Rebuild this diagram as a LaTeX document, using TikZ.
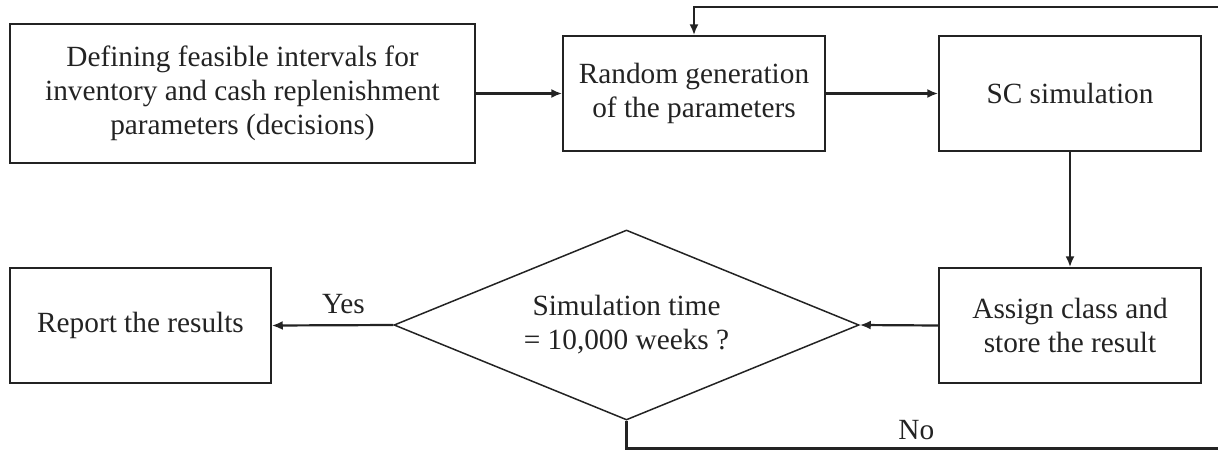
\documentclass[tikz,border=0pt]{standalone}
\usepackage{fontspec}
\setmainfont{Liberation Serif}
\usetikzlibrary{arrows.meta,shapes.geometric}
\definecolor{ink}{RGB}{35,35,35}
\begin{document}
\begin{tikzpicture}[x=1pt,y=-1pt,
  every node/.style={font=\fontsize{29.3}{34}\selectfont, text=ink},
  box/.style={draw=ink, line width=1.5pt, align=center, inner sep=0pt},
  conn/.style={draw=ink, line width=2.2pt, -{Latex[length=11pt,width=9pt]}},
  plainline/.style={draw=ink, line width=2.2pt}]
\useasboundingbox (0,0) rectangle (1218,450);
\node[box, minimum width=465pt, minimum height=139pt] (b1) at (242.5,93.5)
  {Defining feasible intervals for\\inventory and cash replenishment\\parameters (decisions)};
\node[box, minimum width=262pt, minimum height=115pt] (b2) at (694,93.5)
  {Random generation\\of the parameters};
\node[box, minimum width=262pt, minimum height=115pt] (b3) at (1070,93.5)
  {SC simulation};
\node[box, minimum width=262pt, minimum height=115pt] (b4) at (1070,325.5)
  {Assign class and\\store the result};
\node[box, shape=diamond, shape aspect=2.45, minimum width=465pt, minimum height=190pt] (d) at (626.5,325)
  {Simulation time\\= 10,000 weeks ?};
\node[box, minimum width=261pt, minimum height=115pt] (r) at (140.5,325.5)
  {Report the results};
\coordinate (topR) at (1218,7);
\coordinate (noR) at (1218,448.5);
\draw[conn] (b1.east) -- (b2.west);
\draw[conn] (b2.east) -- (b3.west);
\draw[conn] (b3.south) -- (b4.north);
\draw[conn] (b4.west) -- (d.east);
\draw[conn] (d.west) -- node[pos=0.41, above, inner sep=0pt, yshift=10pt] {Yes} (r.east);
\draw[plainline] (d.south) |- (noR) node[pos=0.745, above, inner sep=0pt, yshift=8pt] {No};
\draw[conn] (topR) -| (b2.north);
\end{tikzpicture}
\end{document}
